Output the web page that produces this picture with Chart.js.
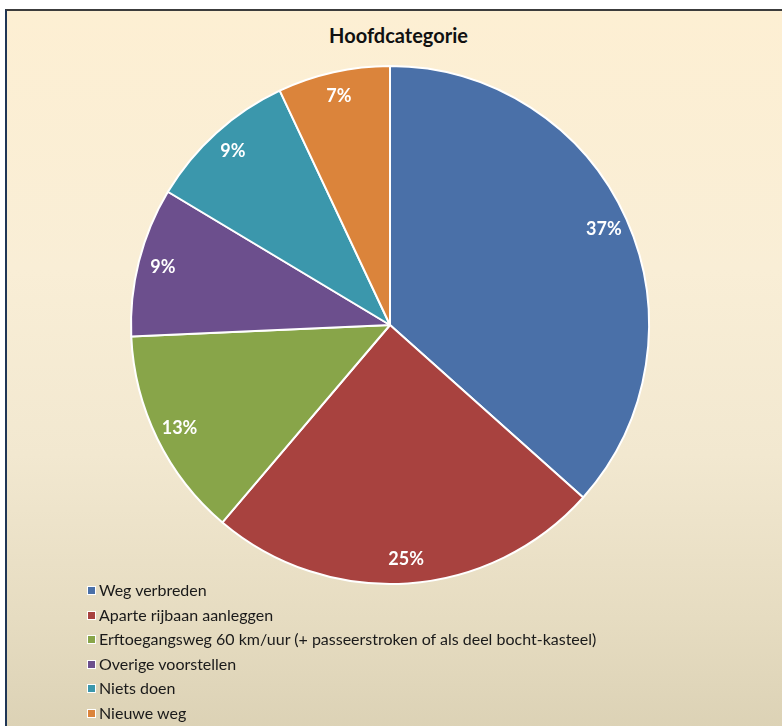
<!DOCTYPE html>
<html>
<head>
<meta charset="utf-8">
<script src="https://cdn.jsdelivr.net/npm/chart.js@4/dist/chart.umd.min.js"></script>
<style>
  html, body { margin: 0; padding: 0; background: #ffffff; }
  #wrap { position: relative; width: 782px; height: 726px; overflow: hidden; background: #ffffff; }
  #frame {
    position: absolute; left: 5px; top: 9px; width: 800px; height: 740px;
    border-left: 2px solid #1f3656; border-top: 2px solid #3c3c3c;
    background: linear-gradient(to bottom, #fdefd3 0%, #f9eed6 35%, #f2e8d0 60%, #e6dcc1 82%, #dad0b3 100%);
  }
  #title {
    position: absolute; left: 0; top: 23px; width: 797px; text-align: center;
    font-family: Lato, "Open Sans", sans-serif; font-weight: 700; font-size: 20px; color: #111;
  }
  #chart { position: absolute; left: 0; top: 0; }
  #legend {
    position: absolute; left: 87px; top: 578px;
    font-family: Lato, "Open Sans", sans-serif; font-size: 16px; color: #1a1a1a;
  }
  .item { height: 24.6px; line-height: 24.6px; white-space: nowrap; }
  .sw { display: inline-block; width: 7px; height: 7px; border: 1.5px solid #fff; margin-right: 3px; vertical-align: 1px; }
</style>
</head>
<body>
<div id="wrap">
  <div id="frame"></div>
  <div id="title"></div>
  <canvas id="chart" width="782" height="726"></canvas>
  <div id="legend"></div>
</div>
<script>
const chartTitle = 'Hoofdcategorie';
const categories = [
  'Weg verbreden',
  'Aparte rijbaan aanleggen',
  'Erftoegangsweg 60 km/uur (+ passeerstroken of als deel bocht-kasteel)',
  'Overige voorstellen',
  'Niets doen',
  'Nieuwe weg'
];
const values = [36.6, 24.6, 13.1, 9.3, 9.4, 7.0];
const colors = ['#4a70a8', '#a8423f', '#88a549', '#6c4f8d', '#3b97ac', '#db843b'];

document.getElementById('title').textContent = chartTitle;
const legendEl = document.getElementById('legend');
categories.forEach((c, i) => {
  const d = document.createElement('div');
  d.className = 'item';
  const s = document.createElement('span');
  s.className = 'sw';
  s.style.background = colors[i];
  d.appendChild(s);
  d.appendChild(document.createTextNode(c));
  legendEl.appendChild(d);
});

const total = values.reduce((a, b) => a + b, 0);
const pctLabels = {
  id: 'pctLabels',
  afterDatasetsDraw(chart) {
    const ctx = chart.ctx;
    const meta = chart.getDatasetMeta(0);
    ctx.save();
    ctx.font = 'bold 18px Lato, "Open Sans", sans-serif';
    ctx.fillStyle = '#ffffff';
    ctx.textAlign = 'center';
    ctx.textBaseline = 'middle';
    meta.data.forEach((arc, i) => {
      const p = arc.getProps(['x', 'y', 'startAngle', 'endAngle', 'outerRadius'], true);
      const mid = (p.startAngle + p.endAngle) / 2;
      const r = p.outerRadius * 0.905;
      ctx.fillText(Math.round(values[i] / total * 100) + '%', p.x + Math.cos(mid) * r, p.y + Math.sin(mid) * r);
    });
    ctx.restore();
  }
};

new Chart(document.getElementById('chart'), {
  type: 'pie',
  data: {
    labels: categories,
    datasets: [{
      data: values,
      backgroundColor: colors,
      borderColor: '#ffffff',
      borderWidth: 2
    }]
  },
  options: {
    responsive: false,
    animation: false,
    devicePixelRatio: 1,
    layout: { padding: { left: 130, right: 132, top: 65, bottom: 141 } },
    plugins: {
      legend: { display: false },
      tooltip: { enabled: false },
      title: { display: false }
    }
  },
  plugins: [pctLabels]
});
</script>
</body>
</html>
